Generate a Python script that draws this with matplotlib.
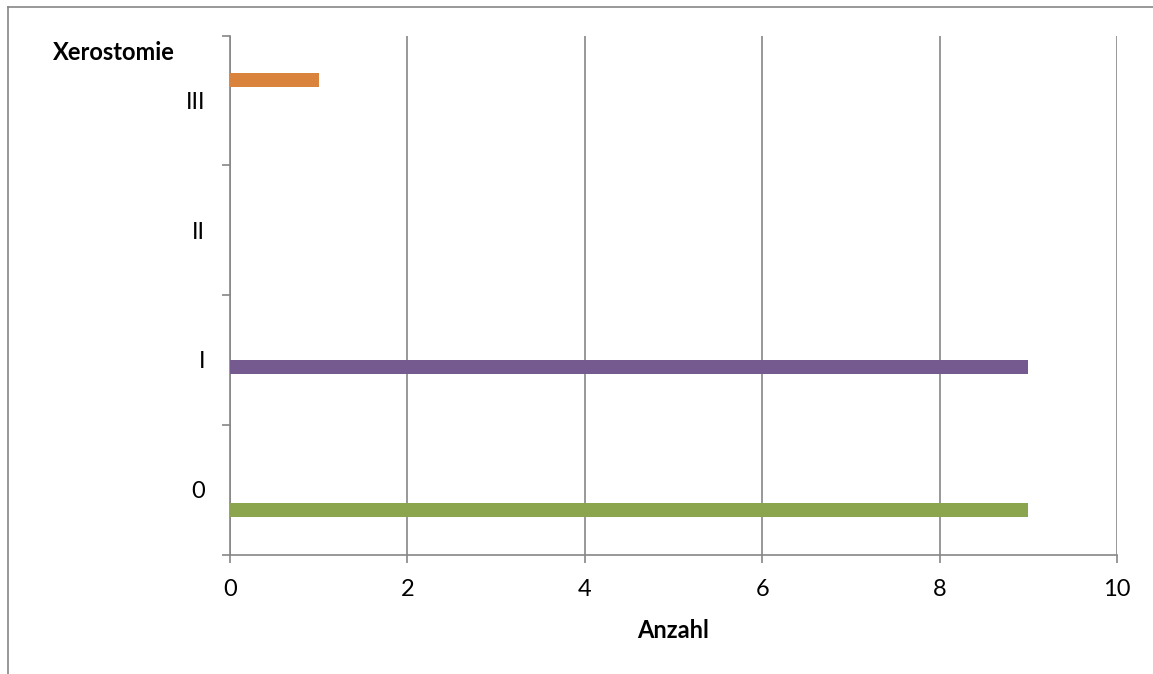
import matplotlib.pyplot as plt
import numpy as np

# Daten
categories = ['0', 'I', 'II', 'III']
series_names = ['0', 'I', 'II', 'III']
series_values = [
    [9, 0, 0, 0],
    [0, 9, 0, 0],
    [0, 0, 0, 0],
    [0, 0, 0, 1],
]
series_colors = ['#8aa54e', '#745a8f', '#4f81bd', '#d9833d']
x_ticks = [0, 2, 4, 6, 8, 10]

plt.rcParams['font.family'] = ['Lato', 'DejaVu Sans']

fig = plt.figure(figsize=(11.53, 6.74), dpi=100)
ax = fig.add_axes([230 / 1153, 1 - 554.5 / 674, (1117 - 230) / 1153, (554.5 - 35.7) / 674])

y = np.arange(len(categories))
bar_h = 0.105
n = len(series_names)
for i, (name, vals, col) in enumerate(zip(series_names, series_values, series_colors)):
    offset = (i - (n - 1) / 2) * bar_h
    ax.barh(y + offset, vals, height=bar_h, color=col, label=name, zorder=3)

ax.set_xlim(0, 10)
ax.set_ylim(-0.5, len(categories) - 0.5)
ax.set_xticks(x_ticks)
ax.set_yticks(y)
ax.set_yticklabels(categories)
ax.set_yticks(np.arange(-0.5, len(categories)), minor=True)

grey = '#868686'
ax.grid(axis='x', color=grey, linewidth=1.2, zorder=0)
for s in ['top', 'right']:
    ax.spines[s].set_visible(False)
for s in ['left', 'bottom']:
    ax.spines[s].set_color(grey)
    ax.spines[s].set_linewidth(1.2)

ax.tick_params(axis='x', direction='out', length=6, width=1.2, color=grey,
               labelsize=17, pad=12)
ax.tick_params(axis='y', which='major', length=0, labelsize=17, pad=18)
ax.tick_params(axis='y', which='minor', direction='out', length=6, width=1.2, color=grey)

fig.text(114 / 1153, 1 - 53 / 674, 'Xerostomie', ha='center', va='center',
         fontsize=17, fontweight='bold')
fig.text(673 / 1153, 1 - 631 / 674, 'Anzahl', ha='center', va='center',
         fontsize=17, fontweight='bold')

# Rahmen oben und links
fig.add_artist(plt.Line2D([7.5 / 1153, 1], [1 - 6.5 / 674, 1 - 6.5 / 674],
                          transform=fig.transFigure, color=grey, linewidth=1.2))
fig.add_artist(plt.Line2D([7.5 / 1153, 7.5 / 1153], [0, 1 - 6.5 / 674],
                          transform=fig.transFigure, color=grey, linewidth=1.2))

fig.savefig('out.png', dpi=100)
